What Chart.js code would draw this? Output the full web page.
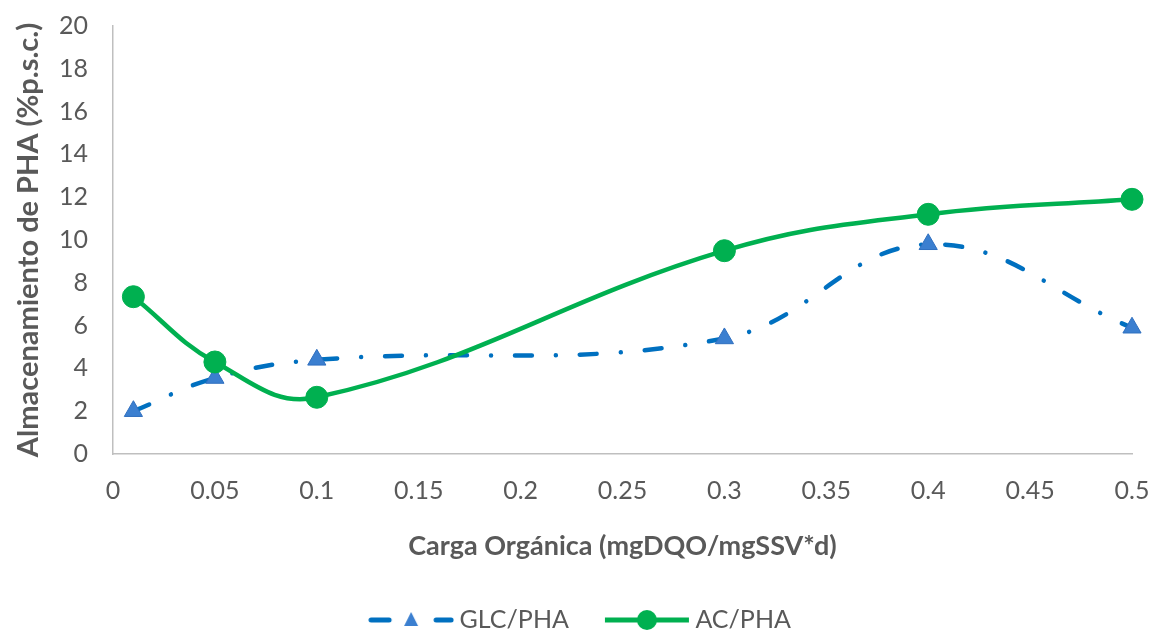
<!DOCTYPE html>
<html>
<head>
<meta charset="utf-8">
<script src="https://cdn.jsdelivr.net/npm/chart.js@4.4.1/dist/chart.umd.min.js"></script>
<style>
  html, body { margin: 0; padding: 0; background: #fff; }
  #wrap { width: 1155px; height: 632px; }
</style>
</head>
<body>
<div id="wrap"><canvas id="phaChart"></canvas></div>
<script>
// carga orgánica (mgDQO/mgSSV*d)
const cargaOrganica = [0.01, 0.05, 0.1, 0.3, 0.4, 0.5];
// almacenamiento de PHA (%p.s.c.)
const glcPha = [2.0, 3.55, 4.4, 5.4, 9.8, 5.9];
const acPha = [7.35, 4.3, 2.65, 9.5, 11.2, 11.9];

const seriesNames = ['GLC/PHA', 'AC/PHA'];
const xTitle = 'Carga Orgánica (mgDQO/mgSSV*d)';
const yTitle = 'Almacenamiento de PHA (%p.s.c.)';

const BLUE = '#0070c0';
const BLUE_MARK = '#3b7fd0';
const GREEN = '#00b050';
const GREY = '#595959';
const AXIS = '#bfbfbf';
const FONT = 'Lato, "Open Sans", sans-serif';

const toPoints = (ys) => ys.map((y, i) => ({ x: cargaOrganica[i], y }));

// small canvases used as legend symbols (line + marker)
function legendIcon(kind) {
    const c = document.createElement('canvas');
    c.width = 86;
    c.height = 24;
    const g = c.getContext('2d');
    const cy = 12;
    if (kind === 'glc') {
        g.strokeStyle = BLUE;
        g.lineWidth = 5;
        g.lineCap = 'round';
        g.beginPath();
        g.moveTo(3, cy); g.lineTo(21, cy);
        g.moveTo(68, cy); g.lineTo(83, cy);
        g.stroke();
        g.fillStyle = BLUE_MARK;
        g.beginPath();
        g.moveTo(43, cy - 8);
        g.lineTo(50, cy + 6);
        g.lineTo(36, cy + 6);
        g.closePath();
        g.fill();
    } else {
        g.strokeStyle = GREEN;
        g.lineWidth = 5;
        g.beginPath();
        g.moveTo(1, cy); g.lineTo(85, cy);
        g.stroke();
        g.fillStyle = GREEN;
        g.beginPath();
        g.arc(43, cy, 10, 0, Math.PI * 2);
        g.fill();
    }
    return c;
}

const icons = [legendIcon('glc'), legendIcon('ac')];

const ctx = document.getElementById('phaChart').getContext('2d');

new Chart(ctx, {
    type: 'line',
    data: {
        datasets: [
            {
                label: seriesNames[0],
                data: toPoints(glcPha),
                borderColor: BLUE,
                borderWidth: 4.5,
                borderDash: [17, 24, 0.01, 24],
                borderCapStyle: 'round',
                tension: 0.4,
                pointStyle: 'triangle',
                pointRadius: 10.5,
                pointBackgroundColor: BLUE_MARK,
                pointBorderColor: '#2f6fbf',
                pointBorderWidth: 1,
                clip: false,
                order: 1
            },
            {
                label: seriesNames[1],
                data: toPoints(acPha),
                borderColor: GREEN,
                borderWidth: 4.5,
                tension: 0.4,
                pointStyle: 'circle',
                pointRadius: 11,
                pointBackgroundColor: GREEN,
                pointBorderColor: GREEN,
                pointBorderWidth: 1,
                clip: false,
                order: 0
            }
        ]
    },
    options: {
        responsive: true,
        maintainAspectRatio: false,
        animation: false,
        layout: {
            padding: { top: 26, right: 23, left: 34, bottom: -10.5 }
        },
        plugins: {
            tooltip: { enabled: false },
            legend: {
                display: true,
                position: 'bottom',
                labels: {
                    usePointStyle: true,
                    // icon canvas is wider than the box so the text sits close to it
                    pointStyleWidth: 72,
                    padding: 42,
                    color: GREY,
                    font: { family: FONT, size: 25 },
                    generateLabels: () => seriesNames.map((name, i) => ({
                        text: name,
                        pointStyle: icons[i],
                        fontColor: GREY,
                        hidden: false,
                        lineWidth: 0,
                        datasetIndex: i
                    }))
                }
            }
        },
        scales: {
            x: {
                type: 'linear',
                min: 0,
                max: 0.5,
                // tick marks are not drawn, tickLength only spaces the labels
                grid: { display: false, drawTicks: true, tickLength: 22 },
                border: { display: true, color: AXIS, width: 1.5 },
                ticks: {
                    stepSize: 0.05,
                    padding: 0,
                    color: GREY,
                    font: { family: FONT, size: 25 },
                    callback: (v) => String(+v.toFixed(2))
                },
                title: {
                    display: true,
                    text: xTitle,
                    color: GREY,
                    font: { family: FONT, size: 27, weight: 'bold' },
                    padding: { top: 0, bottom: 3 }
                },
                afterFit: (scale) => { scale.height = 111.5; }
            },
            y: {
                min: 0,
                max: 20,
                grid: { display: false, drawTicks: true, tickLength: 25 },
                border: { display: true, color: AXIS, width: 1.5 },
                ticks: {
                    stepSize: 2,
                    padding: 0,
                    color: GREY,
                    font: { family: FONT, size: 25 }
                },
                title: {
                    display: true,
                    text: yTitle,
                    color: GREY,
                    font: { family: FONT, size: 29, weight: 'bold' },
                    padding: { top: -23, bottom: 0 }
                },
                afterFit: (scale) => { scale.width = 79; }
            }
        }
    }
});
</script>
</body>
</html>
